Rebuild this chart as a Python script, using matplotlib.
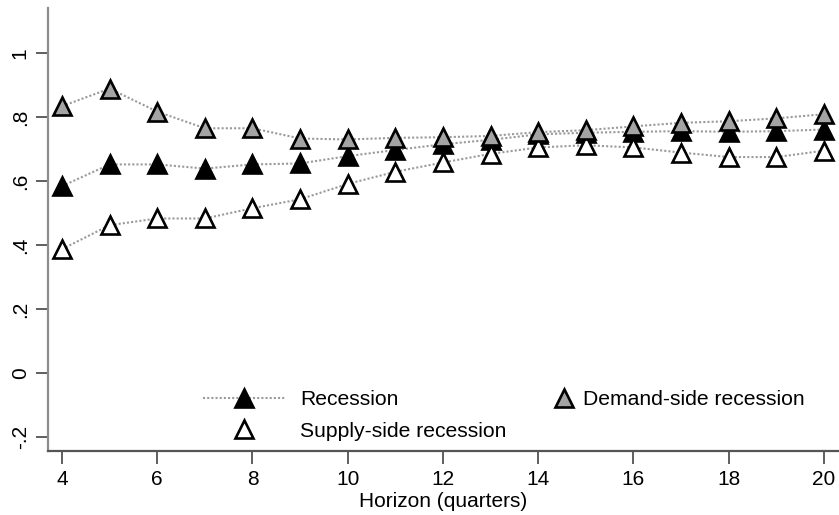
import matplotlib
matplotlib.use("Agg")
import matplotlib.pyplot as plt
from matplotlib.lines import Line2D

plt.rcParams['font.family'] = ['Liberation Sans', 'DejaVu Sans']

horizon = list(range(4, 21))
recession = [0.585, 0.653, 0.653, 0.640, 0.653, 0.656, 0.679, 0.698, 0.716,
             0.730, 0.747, 0.752, 0.755, 0.757, 0.755, 0.757, 0.762]
supply = [0.388, 0.463, 0.484, 0.484, 0.516, 0.544, 0.592, 0.630, 0.659,
          0.686, 0.706, 0.713, 0.706, 0.690, 0.676, 0.676, 0.696]
demand = [0.835, 0.890, 0.818, 0.766, 0.766, 0.734, 0.731, 0.736, 0.738,
          0.742, 0.754, 0.760, 0.772, 0.783, 0.788, 0.797, 0.810]

xticks = [4, 6, 8, 10, 12, 14, 16, 18, 20]
yticks = [-0.2, 0, 0.2, 0.4, 0.6, 0.8, 1]
ytick_labels = ['-.2', '0', '.2', '.4', '.6', '.8', '1']

W, H = 839, 515
fig = plt.figure(figsize=(W / 100, H / 100), dpi=100)
ax = fig.add_axes([47.7 / W, 1 - 450.7 / H, 1 - 47.7 / W, (450.7 - 8) / H])

line_kw = dict(color='#9a9a9a', lw=1.5, linestyle=(0, (1, 1)))
mk = dict(marker='^', markersize=13, markeredgecolor='black', markeredgewidth=1.9)

ax.plot(horizon, recession, markerfacecolor='black', zorder=3, **line_kw, **mk)
ax.plot(horizon, supply, markerfacecolor='white', zorder=4, **line_kw, **mk)
ax.plot(horizon, demand, markerfacecolor='#a4a4a4', zorder=5, **line_kw, **mk)

ax.set_xlim(3.70, 20.315)
ax.set_ylim(-0.242, 1.142)
ax.set_xticks(xticks)
ax.set_yticks(yticks)
ax.set_yticklabels(ytick_labels, rotation=90, va='center')
ax.tick_params(axis='both', labelsize=15, length=9, width=1.2, color='#444444')
ax.tick_params(axis='x', pad=5)
ax.tick_params(axis='y', pad=4)
ax.set_xlabel('Horizon (quarters)', fontsize=15, labelpad=2)

for side in ['top', 'right']:
    ax.spines[side].set_visible(False)
ax.spines['left'].set_color('#8c8c8c')
ax.spines['left'].set_linewidth(1.6)
ax.spines['bottom'].set_color('#555555')
ax.spines['bottom'].set_linewidth(1.6)

h_rec = Line2D([], [], markerfacecolor='black', **line_kw, **mk)
h_sup = Line2D([], [], linestyle='none', markerfacecolor='white', **mk)
h_dem = Line2D([], [], linestyle='none', markerfacecolor='#a4a4a4', **mk)

def fig_px(x, y):
    return (x / W, 1 - y / H)

leg_font = 15.2
leg1 = ax.legend([h_rec, h_sup], ['Recession', 'Supply-side recession'],
                 loc='upper left', bbox_to_anchor=fig_px(203, 390),
                 bbox_transform=fig.transFigure, frameon=False, fontsize=leg_font,
                 handlelength=3.9, handletextpad=0.7, labelspacing=0.6,
                 borderpad=0, borderaxespad=0)
ax.add_artist(leg1)
ax.legend([h_dem], ['Demand-side recession'],
          loc='upper left', bbox_to_anchor=fig_px(553, 390),
          bbox_transform=fig.transFigure, frameon=False, fontsize=leg_font,
          handlelength=1.0, handletextpad=0.4, borderpad=0, borderaxespad=0)

fig.savefig('out.png', dpi=100)
